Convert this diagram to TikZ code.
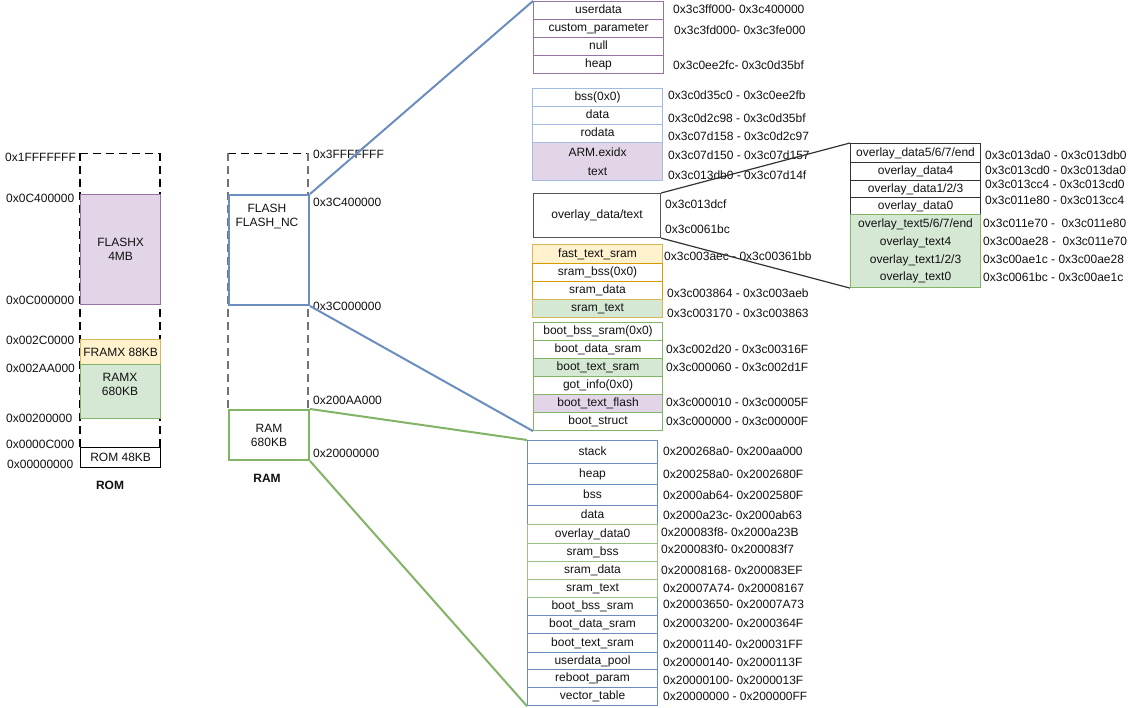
\documentclass[tikz,border=0pt]{standalone}
\usepackage{fontspec}
\setmainfont{Liberation Sans}
\definecolor{purpleF}{HTML}{E1D5E7}
\definecolor{purpleD}{HTML}{9673A6}
\definecolor{yellowF}{HTML}{FFF2CC}
\definecolor{yellowD}{HTML}{D6B656}
\definecolor{orangeD}{HTML}{D79B00}
\definecolor{greenF}{HTML}{D5E8D4}
\definecolor{greenD}{HTML}{82B366}
\definecolor{blueD}{HTML}{6C8EBF}
\definecolor{lblueD}{HTML}{A3BBE0}
\definecolor{grayD}{HTML}{555555}
\definecolor{txt}{HTML}{111111}
\tikzset{
  base/.style={font=\fontsize{12}{14}\selectfont, text=txt},
  cell/.style={base, draw, rectangle, anchor=north west, inner sep=0pt, line width=1.1pt, align=center, text height=8.6pt, text depth=2.4pt},
  multi/.style={text height=, text depth=},
  lbl/.style={base, anchor=west, inner sep=0pt},
  ttl/.style={font=\fontsize{12}{14}\selectfont\bfseries, text=txt, inner sep=0pt},
  dashln/.style={dash pattern=on 8pt off 5pt, line width=1.4pt},
  bigbox/.style={draw, rectangle, anchor=north west, inner sep=0pt, line width=2pt},
  conn/.style={line width=2pt},
}
\newcommand\mcell[7]{\node[cell,#6,minimum width=#4pt,minimum height=#5pt] (#1) at (#2,#3) {#7};}
\newcommand\addr[4]{\node[lbl] (#1) at (#2,#3) {#4};}
\begin{document}
\begin{tikzpicture}[x=1pt,y=-1pt]
\useasboundingbox (0,0) rectangle (1130,708);
\fill[white] (0,0) rectangle (1130,708);

% ---------- ROM column ----------
\coordinate (rtl) at (80,153.5);
\coordinate (rtr) at (160,153.5);
\coordinate (rbl) at (80,447);
\coordinate (rbr) at (160,447);
\draw[dashln] (rtl) -- (rtr);
\draw[dashln] (rtl) -- (rbl);
\draw[dashln] (rtr) -- (rbr);
\node[bigbox, line width=1.3pt, draw=purpleD, fill=purpleF, minimum width=80pt, minimum height=110pt] (flashx) at (80,194) {};
\node[base, align=center] (flashxt) at (flashx.center) {FLASHX\\4MB};
\node[bigbox, line width=1.3pt, draw=yellowD, fill=yellowF, minimum width=80pt, minimum height=25pt, base] (framx) at (80,339) {FRAMX 88KB};
\node[bigbox, line width=1.3pt, draw=greenD, fill=greenF, minimum width=80pt, minimum height=54pt] (ramx) at (80,364) {};
\node[base, align=center, anchor=north] (ramxt) at (120,370) {RAMX\\680KB};
\node[bigbox, line width=1.3pt, draw=black, fill=white, minimum width=80pt, minimum height=20pt, base] (rom) at (80,447) {ROM 48KB};
\node[ttl] (romt) at (110,485) {ROM};

\addr{l1}{5}{157}{0x1FFFFFFF}
\addr{l2}{6}{198}{0x0C400000}
\addr{l3}{6}{300}{0x0C000000}
\addr{l4}{6}{340}{0x002C0000}
\addr{l5}{6}{368}{0x002AA000}
\addr{l6}{6}{418}{0x00200000}
\addr{l7}{6}{444}{0x0000C000}
\addr{l8}{7}{464}{0x00000000}

% ---------- RAM column ----------
\coordinate (mtl) at (228,153.5);
\coordinate (mtr) at (308,153.5);
\coordinate (mbl) at (228,409);
\coordinate (mbr) at (308,409);
\draw[dashln] (mtl) -- (mtr);
\draw[dashln, draw=gray!90!black] (mtl) -- (mbl);
\draw[dashln, draw=gray!90!black] (mtr) -- (mbr);
\node[bigbox, draw=blueD, fill=white, minimum width=80pt, minimum height=110pt] (flash) at (228,194) {};
\node[base, align=center, anchor=north] (flasht) at (267,201) {FLASH\\FLASH\_NC};
\node[bigbox, draw=greenD, fill=white, minimum width=80pt, minimum height=50pt] (ram) at (228,409) {};
\node[base, align=center] (ramt) at (ram.center) {RAM\\680KB};
\node[ttl] (ramtt) at (267,478) {RAM};

\addr{m1}{313}{154}{0x3FFFFFFF}
\addr{m2}{313}{202}{0x3C400000}
\addr{m3}{313}{306}{0x3C000000}
\addr{m4}{313}{400}{0x200AA000}
\addr{m5}{313}{453}{0x20000000}

% ---------- FLASH detail ----------
\mcell{ud}{533}{1}{130}{18}{draw=purpleD, fill=white}{userdata}
\mcell{cp}{533}{19}{130}{18}{draw=purpleD, fill=white}{custom\_parameter}
\mcell{nl}{533}{37}{130}{18}{draw=purpleD, fill=white}{null}
\mcell{hp}{533}{55}{130}{18}{draw=purpleD, fill=white}{heap}

\mcell{bss}{532}{88}{130}{18}{draw=lblueD, fill=white}{bss(0x0)}
\mcell{dat}{532}{106}{130}{18}{draw=lblueD, fill=white}{data}
\mcell{rod}{532}{124}{130}{18}{draw=lblueD, fill=white}{rodata}
\mcell{txt}{532}{142}{130}{38}{draw=lblueD, fill=purpleF, multi, font=\fontsize{12}{19}\selectfont}{ARM.exidx\\text}

\mcell{ovl}{533}{193}{127}{44}{draw=grayD, fill=white}{overlay\_data/text}

\mcell{fts}{532}{244}{130}{19}{draw=yellowD, fill=yellowF}{fast\_text\_sram}
\mcell{sbss}{532}{263}{130}{18}{draw=orangeD, fill=white}{sram\_bss(0x0)}
\mcell{sdat}{532}{281}{130}{18}{draw=orangeD, fill=white}{sram\_data}
\mcell{stxt}{532}{299}{130}{18}{draw=yellowD, fill=greenF}{sram\_text}

\mcell{bbs}{533}{322}{129}{18}{draw=greenD, fill=white}{boot\_bss\_sram(0x0)}
\mcell{bds}{533}{340}{129}{18}{draw=greenD, fill=white}{boot\_data\_sram}
\mcell{bts}{533}{358}{129}{18}{draw=greenD, fill=greenF}{boot\_text\_sram}
\mcell{got}{533}{376}{129}{18}{draw=greenD, fill=white}{got\_info(0x0)}
\mcell{btf}{533}{394}{129}{18}{draw=greenD, fill=purpleF}{boot\_text\_flash}
\mcell{bst}{533}{412}{129}{18}{draw=greenD, fill=white}{boot\_struct}

\addr{f1}{673}{9}{0x3c3ff000- 0x3c400000}
\addr{f2}{674}{30}{0x3c3fd000- 0x3c3fe000}
\addr{f3}{673}{65}{0x3c0ee2fc- 0x3c0d35bf}
\addr{f4}{668}{95}{0x3c0d35c0 - 0x3c0ee2fb}
\addr{f5}{668}{118}{0x3c0d2c98 - 0x3c0d35bf}
\addr{f6}{668}{136}{0x3c07d158 - 0x3c0d2c97}
\addr{f7}{668}{155}{0x3c07d150 - 0x3c07d157}
\addr{f8}{668}{175}{0x3c013db0 - 0x3c07d14f}
\addr{f9}{665}{204}{0x3c013dcf}
\addr{f10}{665}{229}{0x3c0061bc}
\addr{f11}{664}{256}{0x3c003aec - 0x3c00361bb}
\addr{f12}{667}{293}{0x3c003864 - 0x3c003aeb}
\addr{f13}{667}{313}{0x3c003170 - 0x3c003863}
\addr{f14}{666}{349}{0x3c002d20 - 0x3c00316F}
\addr{f15}{666}{367}{0x3c000060 - 0x3c002d1F}
\addr{f16}{666}{402}{0x3c000010 - 0x3c00005F}
\addr{f17}{666}{421}{0x3c000000 - 0x3c00000F}

% ---------- overlay detail ----------
\mcell{od5}{850}{143}{130}{19}{draw=black!80, fill=white}{overlay\_data5/6/7/end}
\mcell{od4}{850}{162}{130}{18}{draw=black!80, fill=white}{overlay\_data4}
\mcell{od1}{850}{180}{130}{17}{draw=black!80, fill=white}{overlay\_data1/2/3}
\mcell{od0}{850}{197}{130}{17}{draw=black!80, fill=white}{overlay\_data0}
\mcell{otx}{850}{214}{130}{73}{draw=greenD, fill=greenF, multi, font=\fontsize{12}{17.7}\selectfont}{overlay\_text5/6/7/end\\overlay\_text4\\overlay\_text1/2/3\\overlay\_text0}

\addr{o1}{985}{155}{0x3c013da0 - 0x3c013db0}
\addr{o2}{985}{170}{0x3c013cd0 - 0x3c013da0}
\addr{o3}{985}{184}{0x3c013cc4 - 0x3c013cd0}
\addr{o4}{985}{200}{0x3c011e80 - 0x3c013cc4}
\addr{o5}{983}{223}{0x3c011e70 -~ 0x3c011e80}
\addr{o6}{983}{241}{0x3c00ae28 -~ 0x3c011e70}
\addr{o7}{983}{259}{0x3c00ae1c - 0x3c00ae28}
\addr{o8}{983}{277}{0x3c0061bc - 0x3c00ae1c}

% ---------- RAM detail ----------
\mcell{stk}{527}{440}{130}{23}{draw=blueD, fill=white}{stack}
\mcell{rhp}{527}{463}{130}{21}{draw=blueD, fill=white}{heap}
\mcell{rbs}{527}{484}{130}{21}{draw=blueD, fill=white}{bss}
\mcell{rdt}{527}{505}{130}{19}{draw=blueD, fill=white}{data}
\mcell{rbb}{527}{597}{130}{18}{draw=blueD, fill=white}{boot\_bss\_sram}
\mcell{rbd}{527}{615}{130}{18}{draw=blueD, fill=white}{boot\_data\_sram}
\mcell{rbt}{527}{633}{130}{19}{draw=blueD, fill=white}{boot\_text\_sram}
\mcell{rup}{527}{652}{130}{17}{draw=blueD, fill=white}{userdata\_pool}
\mcell{rrp}{527}{669}{130}{18}{draw=blueD, fill=white}{reboot\_param}
\mcell{rvt}{527}{687}{130}{18}{draw=blueD, fill=white}{vector\_table}
\mcell{rod0}{527}{524}{130}{19}{draw=greenD!80, fill=white}{overlay\_data0}
\mcell{rsb}{527}{543}{130}{18}{draw=greenD!80, fill=white}{sram\_bss}
\mcell{rsd}{527}{561}{130}{18}{draw=greenD!80, fill=white}{sram\_data}
\mcell{rst}{527}{579}{130}{18}{draw=greenD!80, fill=white}{sram\_text}

\addr{r1}{663}{451}{0x200268a0- 0x200aa000}
\addr{r2}{663}{474}{0x200258a0- 0x2002680F}
\addr{r3}{663}{495}{0x2000ab64- 0x2002580F}
\addr{r4}{663}{515}{0x2000a23c- 0x2000ab63}
\addr{r5}{661}{532}{0x200083f8- 0x2000a23B}
\addr{r6}{661}{549}{0x200083f0- 0x200083f7}
\addr{r7}{661}{570}{0x20008168- 0x200083EF}
\addr{r8}{663}{588}{0x20007A74- 0x20008167}
\addr{r9}{663}{604}{0x20003650- 0x20007A73}
\addr{r10}{663}{623}{0x20003200- 0x2000364F}
\addr{r11}{663}{644}{0x20001140- 0x200031FF}
\addr{r12}{663}{662}{0x20000140- 0x2000113F}
\addr{r13}{663}{680}{0x20000100- 0x2000013F}
\addr{r14}{663}{696}{0x20000000 - 0x200000FF}

% ---------- connectors ----------
\draw[conn, blueD] (flash.north east) -- (ud.north west);
\draw[conn, blueD] (flash.south east) -- (bst.south west);
\draw[conn, greenD] (ram.north east) -- (stk.north west);
\draw[conn, greenD] (ram.south east) -- (rvt.south west);
\draw[line width=1.2pt, black!80] (ovl.north east) -- (od5.north west);
\draw[line width=1.2pt, black!80] (ovl.south east) -- (otx.south west);
\end{tikzpicture}
\end{document}
